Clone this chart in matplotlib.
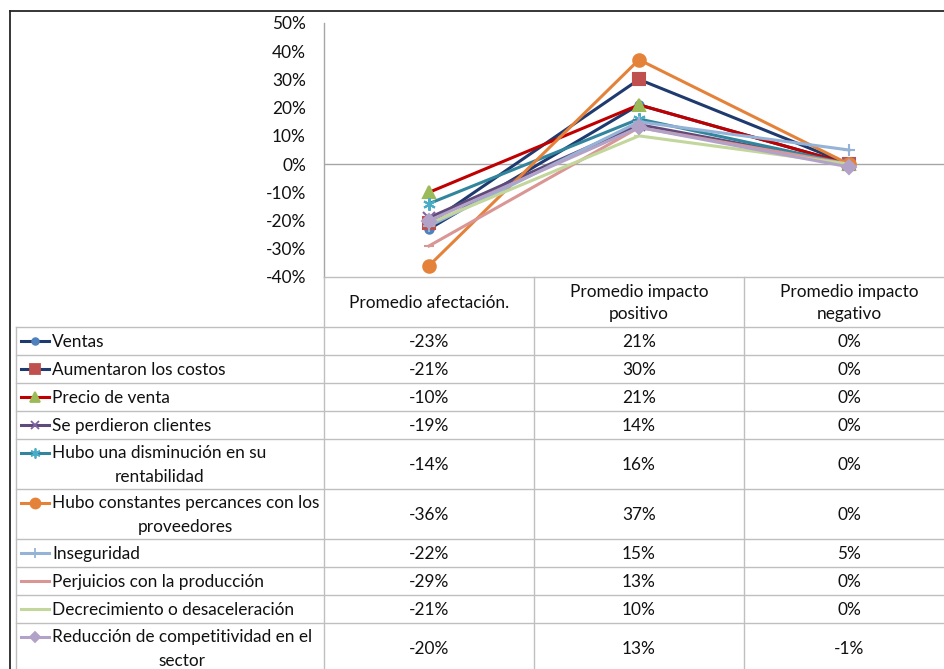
import matplotlib
matplotlib.use("Agg")
import matplotlib.pyplot as plt
from matplotlib.lines import Line2D
from matplotlib.ticker import FuncFormatter

plt.rcParams['font.family'] = ['Lato', 'DejaVu Sans']

categories = ["Promedio afectación.", "Promedio impacto\npositivo", "Promedio impacto\nnegativo"]
labels = ["Ventas", "Aumentaron los costos", "Precio de venta", "Se perdieron clientes",
          "Hubo una disminución en su\nrentabilidad", "Hubo constantes percances con los\nproveedores",
          "Inseguridad", "Perjuicios con la producción", "Decrecimiento o desaceleración",
          "Reducción de competitividad en el\nsector"]
afectacion = [-23, -21, -10, -19, -14, -36, -22, -29, -21, -20]
positivo = [21, 30, 21, 14, 16, 37, 15, 13, 10, 13]
negativo = [0, 0, 0, 0, 0, 0, 5, 0, 0, -1]

line_colors = ['#1F3A6E', '#1F3A6E', '#C00000', '#604A7B', '#31859C', '#E5823A',
               '#95B3D7', '#D99694', '#C3D69B', '#B3A2C7']
marker_colors = ['#4F81BD', '#C0504D', '#9BBB59', '#8064A2', '#4BACC6', '#E5823A',
                 '#95B3D7', '#D99694', '#C3D69B', '#B3A2C7']
markers = ['o', 's', '^', 'x', (6, 2, 0), 'o', '+', '_', '_', 'D']
msizes = [6, 9, 9, 8, 9, 9, 9, 7, 7, 7]

W, H = 944, 669
fig = plt.figure(figsize=(W / 100, H / 100), dpi=100)

def fx(x):
    return x / W

def fy(y):
    return 1 - y / H

grid = '#BFBFBF'
fs = 12.4
tc = '#111111'

# chart area
x0, x1, ytop, ybot = 324, 954, 23, 277
ax = fig.add_axes([fx(x0), fy(ybot), (x1 - x0) / W, (ybot - ytop) / H])
xs = list(range(len(categories)))
for i in range(len(labels)):
    vals = [afectacion[i] / 100, positivo[i] / 100, negativo[i] / 100]
    ax.plot(xs, vals, color=line_colors[i], lw=2.2, marker=markers[i], ms=msizes[i],
            markerfacecolor=marker_colors[i], markeredgecolor=marker_colors[i], mew=1.5, zorder=3 + i)
ax.set_xlim(-0.5, 2.5)
ax.set_ylim(-0.4, 0.5)
ax.set_yticks([v / 100 for v in range(-40, 51, 10)])
ax.yaxis.set_major_formatter(FuncFormatter(lambda v, p: "%d%%" % round(v * 100)))
ax.tick_params(axis='y', length=0, pad=13, labelsize=fs, labelcolor=tc)
ax.set_xticks([])
ax.axhline(0, color='#A6A6A6', lw=1, zorder=1)
for s in ['top', 'right', 'bottom']:
    ax.spines[s].set_visible(False)
ax.spines['left'].set_color('#A6A6A6')
ax.spines['left'].set_linewidth(1)
ax.patch.set_alpha(0)

def hline(y, xa, xb, color=grid, lw=1):
    fig.add_artist(Line2D([fx(xa), fx(xb)], [fy(y), fy(y)], color=color, lw=lw))

def vline(x, ya, yb, color=grid, lw=1):
    fig.add_artist(Line2D([fx(x), fx(x)], [fy(ya), fy(yb)], color=color, lw=lw))

# outer frame
hline(11, 10, W, color='#262626', lw=1.3)
vline(10, 11, H, color='#262626', lw=1.3)

# table
col_edges = [324, 534, 744, 954]
tleft = 16
header_bot = 327
hline(ybot, col_edges[0], W)
for c in range(len(categories)):
    cx = (col_edges[c] + col_edges[c + 1]) / 2
    fig.text(fx(cx), fy((ybot + header_bot) / 2 + 1), categories[c], ha='center', va='center',
             fontsize=fs, color=tc, linespacing=1.5)
for e in col_edges[:3]:
    vline(e, ybot, H)
vline(tleft, header_bot, H)

y = header_bot
hline(y, tleft, W)
for i, lab in enumerate(labels):
    h = 50 if '\n' in lab else 28
    yc = y + h / 2
    ky = y + 14
    fig.add_artist(Line2D([fx(21), fx(49)], [fy(ky), fy(ky)], color=line_colors[i], lw=2.2))
    fig.add_artist(Line2D([fx(35)], [fy(ky)], color=line_colors[i], lw=0, marker=markers[i],
                          ms=msizes[i] * 0.8, markerfacecolor=marker_colors[i],
                          markeredgecolor=marker_colors[i], mew=1.3))
    fig.text(fx(52), fy(yc + 1), lab, ha='left', va='center', multialignment='center',
             fontsize=fs, color=tc, linespacing=1.55)
    for c, arr in enumerate([afectacion, positivo, negativo]):
        cx = (col_edges[c] + col_edges[c + 1]) / 2
        fig.text(fx(cx), fy(yc + 1), "%d%%" % arr[i], ha='center', va='center',
                 fontsize=fs, color=tc)
    y += h
    hline(y, tleft, W)

fig.savefig("out.png", dpi=100)
